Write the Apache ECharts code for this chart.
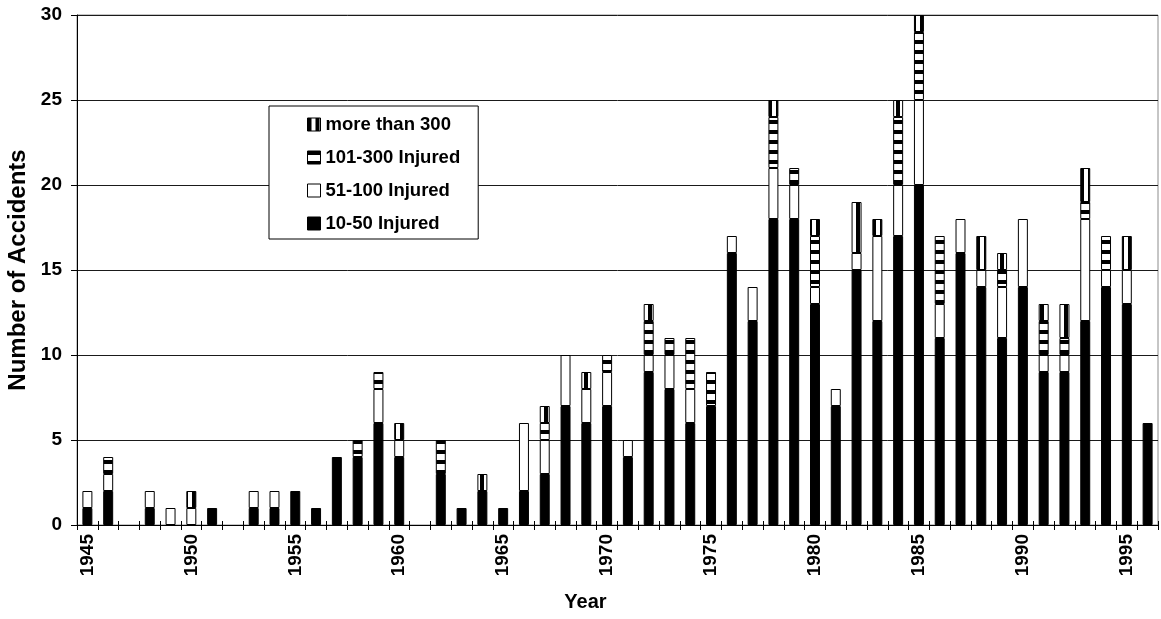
<!DOCTYPE html>
<html>
<head>
<meta charset="utf-8">
<script src="https://cdn.jsdelivr.net/npm/echarts@6/dist/echarts.min.js"></script>
<style>html,body{margin:0;padding:0;background:#fff}#chart{width:1161px;height:619px}</style>
</head>
<body>
<div id="chart"></div>
<script>
const years = ['1945','1946','1947','1948','1949','1950','1951','1952','1953','1954','1955','1956','1957','1958','1959','1960','1961','1962','1963','1964','1965','1966','1967','1968','1969','1970','1971','1972','1973','1974','1975','1976','1977','1978','1979','1980','1981','1982','1983','1984','1985','1986','1987','1988','1989','1990','1991','1992','1993','1994','1995','1996'];
const injured10to50 = [1,2,0,1,0,0,1,0,1,1,2,1,4,4,6,4,0,3,1,2,1,2,3,7,6,7,4,9,8,6,7,16,12,18,18,13,7,15,12,17,20,11,16,14,11,14,9,9,12,14,13,6];
const injured51to100 = [1,1,0,1,1,1,0,0,1,1,0,0,0,0,2,1,0,0,0,0,0,4,2,3,2,2,1,1,2,2,0,1,2,3,2,1,1,1,5,3,5,2,2,1,3,4,1,1,6,1,2,0];
const injured101to300 = [0,1,0,0,0,0,0,0,0,0,0,0,0,1,1,0,0,2,0,0,0,0,1,0,0,1,0,2,1,3,2,0,0,3,1,3,0,0,0,4,4,4,0,0,1,0,2,1,1,2,0,0];
const injuredOver300 = [0,0,0,0,0,1,0,0,0,0,0,0,0,0,0,1,0,0,0,1,0,0,1,0,1,0,0,1,0,0,0,0,0,1,0,1,0,3,1,1,1,0,0,2,1,0,1,2,2,0,2,0];
const seriesNames = ['10-50 Injured','51-100 Injured','101-300 Injured','more than 300'];
const yTicks = [0,5,10,15,20,25,30];

function makePattern(kind){
  const c = document.createElement('canvas');
  if(kind==='h'){
    c.width = 10; c.height = 10;
    const g = c.getContext('2d');
    g.fillStyle='#fff'; g.fillRect(0,0,10,10);
    g.fillStyle='#000'; g.fillRect(0,0,10,4);
  } else {
    c.width = 8; c.height = 8;
    const g = c.getContext('2d');
    g.fillStyle='#fff'; g.fillRect(0,0,8,8);
    g.fillStyle='#000'; g.fillRect(0,0,4,8);
  }
  return {image:c, repeat:'repeat'};
}

const fills = ['#000000','#ffffff',makePattern('h'),makePattern('v')];
const values = [injured10to50, injured51to100, injured101to300, injuredOver300];
const font = 'Liberation Sans, Arial, sans-serif';

const chart = echarts.init(document.getElementById('chart'));
const series = seriesNames.map((n,i)=>({
  name:n, type:'bar', stack:'all', barWidth:'48%', xAxisIndex:0,
  data: values[i].map(v=> v===0 ? null : v),
  itemStyle:{color:fills[i], borderColor:'#000', borderWidth:1},
  emphasis:{disabled:true},
  animation:false
}));

chart.setOption({
  animation:false,
  backgroundColor:'#fff',
  grid:{left:77,right:3,top:15,bottom:94,show:true,borderColor:'#8c8c8c',borderWidth:1,backgroundColor:'#fff',
    containLabel:false, outerBoundsMode:'none'},
  legend:{
    orient:'vertical', left:269, top:106,
    data:['more than 300','101-300 Injured','51-100 Injured','10-50 Injured'],
    itemWidth:13, itemHeight:13, itemGap:14, icon:'rect',
    backgroundColor:'#fff', borderColor:'#000', borderWidth:1,
    padding:[9,18,6,38],
    textStyle:{fontFamily:font, fontWeight:'bold', fontSize:18.5, color:'#000'},
    itemStyle:{borderColor:'#000', borderWidth:1}
  },
  xAxis:[{
    type:'category', data:years, boundaryGap:true,
    name:'Year', nameLocation:'middle', nameGap:67,
    nameTextStyle:{fontFamily:font,fontWeight:'bold',fontSize:20,color:'#000',padding:[0,64,0,0]},
    axisLine:{lineStyle:{color:'#000',width:1}},
    axisTick:{show:true,interval:0,length:5,lineStyle:{color:'#000'}},
    axisLabel:{interval:4,rotate:90,fontFamily:font,fontWeight:'bold',fontSize:19,color:'#000',margin:9}
  },{
    type:'category', data:years, boundaryGap:true, position:'bottom',
    axisLine:{show:false},
    axisTick:{show:true,inside:true,interval:0,length:4,lineStyle:{color:'#000'}},
    axisLabel:{show:false}
  }],
  yAxis:{
    type:'value', min:0, max:30, interval:5,
    name:'Number of Accidents', nameLocation:'middle', nameGap:46,
    nameTextStyle:{fontFamily:font,fontWeight:'bold',fontSize:24,color:'#000'},
    axisLine:{show:true,lineStyle:{color:'#000',width:1}},
    axisTick:{show:true,length:6,lineStyle:{color:'#000'}},
    axisLabel:{fontFamily:font,fontWeight:'bold',fontSize:19,color:'#000',margin:15,
      formatter:v=> yTicks.includes(v)? String(v):''},
    splitLine:{show:true,lineStyle:{color:'#1a1a1a',width:1}}
  },
  series:series
});
</script>
</body>
</html>
